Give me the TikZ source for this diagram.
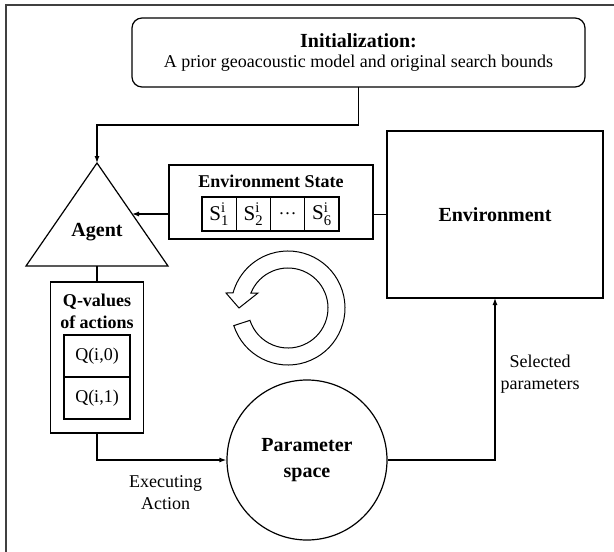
\documentclass[tikz,border=0pt]{standalone}
\usepackage{fontspec}
\setmainfont{Liberation Serif}
\usetikzlibrary{positioning}
\usetikzlibrary{calc}
\usetikzlibrary{arrows.meta}

\begin{document}
\begin{tikzpicture}[x=1pt,y=-1pt,line width=1.2pt,>={Latex[length=7pt,width=5pt]},
    box/.style={draw,inner sep=0pt,outer sep=0pt},
    cell/.style={draw,inner sep=0pt,outer sep=0pt,minimum width=34.25pt,minimum height=34pt,font=\fontsize{21}{22}\selectfont},
    txt/.style={font=\fontsize{18}{22}\selectfont,align=center,inner sep=1pt},
    head/.style={font=\fontsize{20}{25}\selectfont\bfseries,align=center}]
    \useasboundingbox (0,0) rectangle (614,552);
    \draw[black!75] (6,552) -- (6,5) -- (614,5);

    % top box
    \node (init) [box,rounded corners=10pt,minimum width=453pt,minimum height=69pt,txt,font=\fontsize{18}{20}\selectfont] at (358.5,52.5)
        {{\fontsize{20}{24}\selectfont\bfseries Initialization:}\\A prior geoacoustic model and original search bounds};

    % agent
    \coordinate (apex) at (97,163);
    \coordinate (agentbase) at (97,266);
    \coordinate (agentin) at (132,214);
    \draw (apex) -- (168,266) -- (26,266) -- cycle;
    \node (agent) [head] at (97,232) {Agent};

    % environment and its state
    \node (env) [box,minimum width=216pt,minimum height=167pt,head] at (495,214.5) {Environment};
    \node (state) [box,minimum width=204pt,minimum height=74pt] at (271,202) {};
    \node (statetitle) [font=\fontsize{18}{22}\selectfont\bfseries] at (271,181) {Environment State};
    \node (s1) [cell] at (219.1,214) {$\mathrm{S}^{\mathrm{i}}_{\mathrm{1}}$};
    \node (s2) [cell,right=0pt of s1] {$\mathrm{S}^{\mathrm{i}}_{\mathrm{2}}$};
    \node (s3) [cell,right=0pt of s2,font=\fontsize{18}{20}\selectfont] {\dots};
    \node (s6) [cell,right=0pt of s3] {$\mathrm{S}^{\mathrm{i}}_{\mathrm{6}}$};

    % Q-values
    \node (qbox) [box,minimum width=93pt,minimum height=151pt] at (97,357.5) {};
    \node (qtitle) [txt,font=\fontsize{18}{22}\selectfont\bfseries] at (97,311) {Q-values\\of actions};
    \node (q0) [box,minimum width=66pt,minimum height=42pt,txt] at (97,356) {Q(i,0)};
    \node (q1) [box,minimum width=66pt,minimum height=42pt,txt,below=0pt of q0] {Q(i,1)};

    % parameter space
    \node (param) [draw,circle,minimum size=160pt,inner sep=0pt,head,font=\fontsize{20}{26}\selectfont\bfseries] at (307,460) {Parameter\\space};

    % loop sign
    \coordinate (ring) at (288,308);
    \draw[line width=1pt,fill=white] ($(ring)+(162:57)$) arc[start angle=162,end angle=-164.7,radius=57]
        -- ($(ring)+(-62,-15)$) -- ($(ring)+(-49,0)$) -- ($(ring)+(-30,-15)$)
        -- ($(ring)+(-158:40)$) arc[start angle=-158,end angle=162,radius=40] -- cycle;

    % connectors
    \draw[->] (init.south) -- ++(0,38) -| (apex);
    \draw[->] (state.west |- s1) -- (agentin);
    \draw (env.west) -- (state.east |- env.west);
    \draw (agentbase) -- (qbox.north);
    \draw[->] (qbox.south) |- (param.west) node[txt,pos=0.765,below=14pt] {Executing\\Action};
    \draw[->] (param.east) -| (env.south) node[txt,pos=0.765,right=4pt] {Selected\\parameters};
\end{tikzpicture}
\end{document}
